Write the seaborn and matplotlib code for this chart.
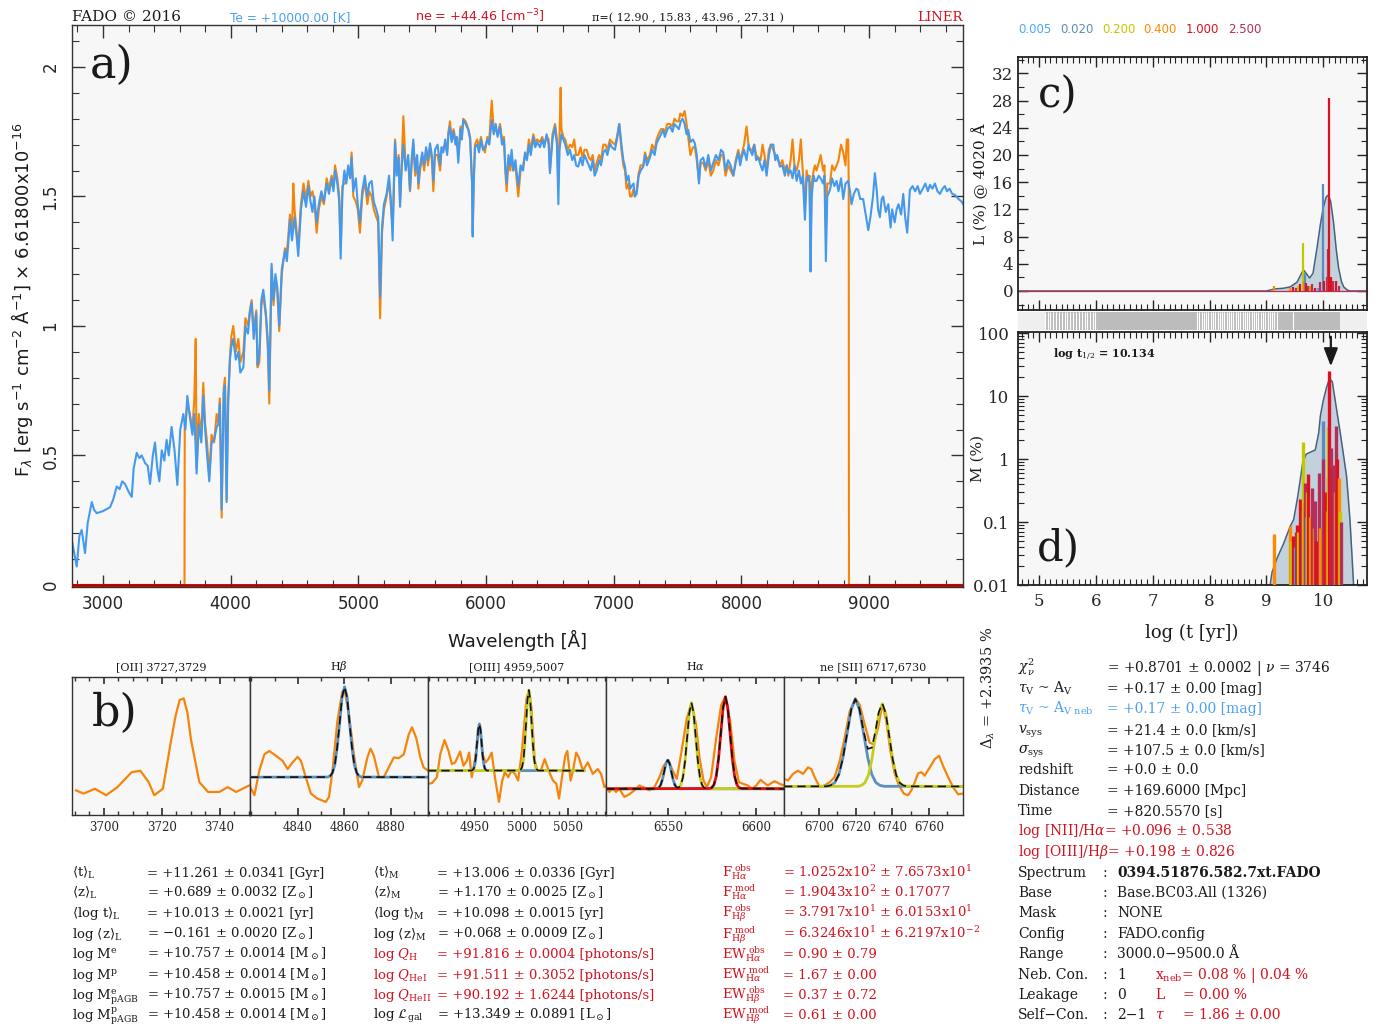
import numpy as np
import pandas as pd
import matplotlib
matplotlib.use("Agg")
import matplotlib.pyplot as plt
from matplotlib.ticker import MultipleLocator, LogLocator, NullFormatter
import seaborn as sns

# ------------------------------------------------------------------ data
# panel a: model (blue) spectrum
model_wave = [
    2755, 2775, 2794, 2815, 2833, 2845, 2859, 2880, 2912, 2930,
    2951, 3000, 3055, 3080, 3107, 3130, 3150, 3172, 3200, 3225,
    3240, 3264, 3285, 3303, 3330, 3350, 3368, 3390, 3407, 3425,
    3441, 3460, 3480, 3498, 3515, 3537, 3560, 3582, 3605, 3629,
    3645, 3660, 3680, 3700, 3715, 3733, 3750, 3770, 3785, 3800,
    3815, 3832, 3850, 3870, 3890, 3905, 3915, 3929, 3945, 3955,
    3968, 3980, 3994, 4005, 4020, 4040, 4060, 4075, 4099, 4115,
    4135, 4150, 4164, 4180, 4200, 4210, 4224, 4240, 4255, 4275,
    4290, 4302, 4320, 4335, 4350, 4365, 4380, 4400, 4425, 4440,
    4464, 4480, 4500, 4515, 4529, 4550, 4570, 4590, 4608, 4625,
    4640, 4655, 4673, 4690, 4710, 4730, 4751, 4770, 4790, 4805,
    4817, 4835, 4850, 4861, 4875, 4890, 4905, 4920, 4935, 4947,
    4960, 4980, 4995, 5012, 5030, 5050, 5070, 5085, 5104, 5120,
    5140, 5155, 5170, 5185, 5200, 5221, 5240, 5255, 5268, 5287,
    5300, 5315, 5326, 5340, 5352, 5370, 5390, 5404, 5418, 5430,
    5445, 5460, 5470, 5482, 5500, 5515, 5530, 5545, 5561, 5575,
    5587, 5600, 5620, 5640, 5650, 5665, 5680, 5695, 5705, 5717,
    5730, 5745, 5760, 5770, 5782, 5800, 5810, 5821, 5840, 5861,
    5875, 5890, 5895, 5903, 5913, 5930, 5945, 5960, 5975, 5991,
    6010, 6025, 6044, 6060, 6075, 6090, 6109, 6125, 6140, 6150,
    6161, 6175, 6190, 6200, 6213, 6230, 6242, 6252, 6270, 6290,
    6305, 6320, 6335, 6350, 6370, 6385, 6400, 6422, 6440, 6455,
    6474, 6490, 6500, 6520, 6540, 6555, 6566, 6575, 6590, 6605,
    6620, 6640, 6657, 6675, 6690, 6705, 6722, 6740, 6755, 6770,
    6788, 6805, 6820, 6835, 6850, 6866, 6885, 6900, 6918, 6935,
    6950, 6970, 6985, 7009, 7025, 7043, 7060, 7075, 7088, 7100,
    7115, 7128, 7140, 7155, 7165, 7179, 7195, 7210, 7231, 7245,
    7260, 7283, 7300, 7320, 7335, 7350, 7370, 7387, 7400, 7420,
    7440, 7460, 7475, 7492, 7510, 7525, 7539, 7555, 7570, 7583,
    7600, 7620, 7635, 7650, 7667, 7680, 7700, 7720, 7740, 7760,
    7779, 7800, 7820, 7840, 7857, 7875, 7895, 7915, 7936, 7955,
    7975, 7990, 8001, 8020, 8040, 8055, 8067, 8085, 8100, 8115,
    8132, 8150, 8165, 8180, 8197, 8215, 8230, 8249, 8265, 8280,
    8301, 8320, 8340, 8355, 8367, 8385, 8400, 8415, 8432, 8450,
    8465, 8480, 8497, 8510, 8523, 8533, 8541, 8550, 8565, 8575,
    8588, 8605, 8620, 8640, 8650, 8661, 8672, 8693, 8710, 8728,
    8745, 8760, 8780, 8797, 8815, 8836, 8850, 8862, 8880, 8900,
    8914, 8930, 8953, 8970, 8993, 9010, 9030, 9045, 9060, 9070,
    9084, 9098, 9110, 9130, 9150, 9168, 9180, 9200, 9215, 9230,
    9250, 9267, 9282, 9298, 9310, 9319, 9340, 9360, 9380, 9398,
    9420, 9440, 9460, 9476, 9495, 9515, 9535, 9554, 9575, 9593,
    9610, 9630, 9650, 9672, 9700, 9724, 9735]
model_flux = [
    0.174, 0.120, 0.071, 0.190, 0.212, 0.170, 0.123, 0.240, 0.320, 0.290,
    0.277, 0.285, 0.300, 0.330, 0.380, 0.370, 0.400, 0.390, 0.360, 0.340,
    0.450, 0.510, 0.490, 0.500, 0.470, 0.460, 0.390, 0.500, 0.550, 0.450,
    0.400, 0.520, 0.480, 0.560, 0.500, 0.610, 0.520, 0.386, 0.600, 0.660,
    0.600, 0.730, 0.650, 0.580, 0.660, 0.430, 0.620, 0.550, 0.730, 0.600,
    0.500, 0.400, 0.550, 0.560, 0.610, 0.620, 0.700, 0.290, 0.740, 0.770,
    0.320, 0.700, 0.870, 0.920, 0.950, 0.870, 0.900, 0.820, 0.840, 1.000,
    0.970, 1.050, 1.090, 0.950, 1.050, 0.850, 0.890, 1.100, 1.140, 1.050,
    0.950, 0.750, 1.240, 1.100, 1.200, 1.150, 1.000, 1.220, 1.290, 1.250,
    1.410, 1.330, 1.420, 1.350, 1.270, 1.450, 1.520, 1.460, 1.540, 1.480,
    1.440, 1.500, 1.400, 1.470, 1.520, 1.480, 1.550, 1.510, 1.570, 1.520,
    1.600, 1.550, 1.480, 1.260, 1.520, 1.600, 1.550, 1.620, 1.570, 1.650,
    1.520, 1.570, 1.470, 1.400, 1.520, 1.580, 1.500, 1.550, 1.560, 1.480,
    1.450, 1.420, 1.110, 1.380, 1.470, 1.510, 1.580, 1.480, 1.330, 1.710,
    1.580, 1.650, 1.460, 1.620, 1.700, 1.600, 1.660, 1.525, 1.650, 1.720,
    1.600, 1.660, 1.550, 1.615, 1.670, 1.620, 1.690, 1.640, 1.705, 1.660,
    1.560, 1.680, 1.700, 1.620, 1.690, 1.670, 1.720, 1.660, 1.740, 1.770,
    1.710, 1.750, 1.700, 1.730, 1.630, 1.760, 1.720, 1.795, 1.780, 1.757,
    1.720, 1.550, 1.345, 1.550, 1.690, 1.700, 1.670, 1.720, 1.680, 1.690,
    1.720, 1.700, 1.795, 1.740, 1.780, 1.730, 1.770, 1.700, 1.720, 1.620,
    1.550, 1.660, 1.620, 1.680, 1.600, 1.640, 1.580, 1.540, 1.620, 1.600,
    1.670, 1.640, 1.700, 1.660, 1.730, 1.690, 1.710, 1.690, 1.720, 1.690,
    1.740, 1.700, 1.590, 1.720, 1.770, 1.700, 1.470, 1.680, 1.740, 1.720,
    1.700, 1.660, 1.680, 1.640, 1.660, 1.620, 1.615, 1.650, 1.620, 1.660,
    1.640, 1.620, 1.600, 1.640, 1.580, 1.600, 1.640, 1.620, 1.670, 1.680,
    1.660, 1.705, 1.690, 1.680, 1.720, 1.780, 1.700, 1.640, 1.615, 1.560,
    1.580, 1.530, 1.540, 1.550, 1.500, 1.510, 1.580, 1.600, 1.615, 1.660,
    1.620, 1.650, 1.680, 1.660, 1.705, 1.720, 1.740, 1.757, 1.730, 1.760,
    1.770, 1.750, 1.780, 1.770, 1.760, 1.790, 1.800, 1.780, 1.740, 1.757,
    1.710, 1.720, 1.705, 1.660, 1.550, 1.640, 1.650, 1.610, 1.660, 1.600,
    1.630, 1.660, 1.640, 1.680, 1.670, 1.600, 1.640, 1.620, 1.580, 1.630,
    1.670, 1.620, 1.650, 1.680, 1.640, 1.700, 1.680, 1.660, 1.700, 1.640,
    1.650, 1.620, 1.600, 1.640, 1.580, 1.660, 1.700, 1.700, 1.640, 1.660,
    1.615, 1.620, 1.580, 1.620, 1.590, 1.600, 1.570, 1.620, 1.560, 1.600,
    1.550, 1.580, 1.410, 1.570, 1.580, 1.550, 1.210, 1.500, 1.580, 1.560,
    1.560, 1.580, 1.570, 1.550, 1.580, 1.250, 1.500, 1.525, 1.570, 1.540,
    1.560, 1.520, 1.570, 1.490, 1.550, 1.560, 1.520, 1.470, 1.510, 1.530,
    1.525, 1.490, 1.490, 1.440, 1.370, 1.420, 1.500, 1.590, 1.520, 1.450,
    1.420, 1.490, 1.500, 1.440, 1.470, 1.380, 1.450, 1.400, 1.450, 1.470,
    1.430, 1.510, 1.420, 1.360, 1.450, 1.525, 1.540, 1.520, 1.540, 1.510,
    1.530, 1.550, 1.520, 1.545, 1.530, 1.550, 1.520, 1.510, 1.530, 1.540,
    1.520, 1.530, 1.510, 1.506, 1.490, 1.480, 1.470]

# panel a: observed (orange) spectrum
obs_wave = [
    2757, 3636, 3638, 3640, 3645, 3660, 3680, 3700, 3715, 3726,
    3733, 3750, 3770, 3785, 3800, 3815, 3832, 3850, 3870, 3890,
    3905, 3915, 3929, 3945, 3955, 3968, 3980, 3994, 4005, 4020,
    4040, 4060, 4075, 4099, 4115, 4135, 4150, 4164, 4180, 4200,
    4210, 4224, 4240, 4255, 4275, 4290, 4302, 4320, 4335, 4350,
    4365, 4380, 4400, 4425, 4440, 4464, 4480, 4490, 4500, 4515,
    4529, 4550, 4570, 4590, 4608, 4625, 4640, 4655, 4673, 4690,
    4710, 4730, 4751, 4770, 4790, 4805, 4817, 4835, 4850, 4861,
    4875, 4890, 4905, 4920, 4935, 4947, 4960, 4980, 4995, 5012,
    5030, 5050, 5070, 5085, 5104, 5120, 5140, 5155, 5170, 5185,
    5200, 5221, 5240, 5255, 5268, 5287, 5300, 5315, 5326, 5340,
    5352, 5370, 5390, 5404, 5418, 5430, 5445, 5460, 5470, 5482,
    5500, 5515, 5530, 5545, 5561, 5575, 5587, 5600, 5620, 5640,
    5650, 5665, 5680, 5695, 5705, 5717, 5730, 5745, 5760, 5770,
    5782, 5800, 5810, 5821, 5840, 5861, 5875, 5890, 5895, 5903,
    5913, 5930, 5945, 5960, 5975, 5991, 6010, 6025, 6044, 6060,
    6075, 6090, 6109, 6125, 6140, 6150, 6161, 6175, 6190, 6200,
    6213, 6230, 6242, 6252, 6270, 6290, 6305, 6320, 6335, 6350,
    6370, 6385, 6400, 6422, 6440, 6455, 6474, 6490, 6500, 6520,
    6540, 6555, 6566, 6584, 6590, 6605, 6620, 6640, 6657, 6675,
    6690, 6705, 6722, 6740, 6755, 6770, 6788, 6805, 6820, 6835,
    6850, 6866, 6885, 6900, 6918, 6935, 6950, 6970, 6985, 7009,
    7025, 7043, 7060, 7075, 7088, 7100, 7115, 7128, 7140, 7155,
    7165, 7179, 7195, 7210, 7231, 7245, 7260, 7283, 7300, 7320,
    7335, 7350, 7370, 7387, 7400, 7420, 7440, 7460, 7475, 7492,
    7510, 7520, 7539, 7555, 7570, 7583, 7600, 7620, 7635, 7650,
    7667, 7680, 7700, 7720, 7740, 7760, 7779, 7800, 7820, 7840,
    7857, 7875, 7895, 7915, 7936, 7955, 7975, 7990, 8001, 8020,
    8040, 8055, 8067, 8085, 8100, 8115, 8132, 8150, 8165, 8180,
    8197, 8215, 8230, 8249, 8265, 8280, 8301, 8320, 8340, 8355,
    8367, 8385, 8400, 8415, 8432, 8450, 8465, 8480, 8497, 8510,
    8523, 8533, 8541, 8550, 8565, 8575, 8588, 8605, 8620, 8640,
    8650, 8661, 8672, 8693, 8710, 8728, 8745, 8760, 8780, 8797,
    8815, 8825, 8836, 8840, 8842, 9735]
obs_flux = [
    0.000, 0.000, 0.000, 0.620, 0.620, 0.700, 0.660, 0.600, 0.720, 0.950,
    0.450, 0.660, 0.580, 0.780, 0.620, 0.550, 0.420, 0.580, 0.550, 0.660,
    0.620, 0.720, 0.260, 0.760, 0.800, 0.330, 0.720, 0.880, 0.960, 1.000,
    0.900, 0.950, 0.860, 0.900, 1.030, 1.000, 1.060, 1.100, 0.980, 1.060,
    0.840, 0.860, 1.080, 1.120, 1.040, 0.920, 0.700, 1.220, 1.080, 1.180,
    1.130, 0.980, 1.200, 1.300, 1.280, 1.430, 1.360, 1.550, 1.450, 1.370,
    1.300, 1.470, 1.550, 1.490, 1.560, 1.500, 1.520, 1.480, 1.360, 1.450,
    1.500, 1.470, 1.570, 1.530, 1.580, 1.540, 1.620, 1.570, 1.500, 1.300,
    1.540, 1.550, 1.560, 1.600, 1.580, 1.670, 1.500, 1.480, 1.450, 1.360,
    1.500, 1.560, 1.470, 1.520, 1.500, 1.450, 1.420, 1.400, 1.030, 1.360,
    1.450, 1.500, 1.560, 1.460, 1.380, 1.720, 1.600, 1.660, 1.480, 1.640,
    1.810, 1.620, 1.640, 1.520, 1.630, 1.700, 1.580, 1.640, 1.530, 1.600,
    1.650, 1.600, 1.680, 1.620, 1.690, 1.640, 1.520, 1.660, 1.660, 1.600,
    1.670, 1.690, 1.700, 1.670, 1.750, 1.790, 1.720, 1.760, 1.720, 1.720,
    1.660, 1.770, 1.730, 1.800, 1.790, 1.760, 1.730, 1.560, 1.360, 1.560,
    1.700, 1.720, 1.690, 1.730, 1.690, 1.670, 1.730, 1.720, 1.870, 1.760,
    1.760, 1.740, 1.780, 1.720, 1.730, 1.600, 1.520, 1.640, 1.600, 1.660,
    1.600, 1.620, 1.550, 1.500, 1.600, 1.620, 1.660, 1.650, 1.720, 1.680,
    1.740, 1.710, 1.720, 1.710, 1.730, 1.700, 1.730, 1.720, 1.600, 1.740,
    1.780, 1.720, 1.550, 1.920, 1.760, 1.730, 1.720, 1.680, 1.700, 1.690,
    1.720, 1.660, 1.660, 1.690, 1.650, 1.680, 1.680, 1.650, 1.640, 1.660,
    1.600, 1.630, 1.660, 1.640, 1.700, 1.700, 1.680, 1.720, 1.710, 1.700,
    1.730, 1.780, 1.680, 1.620, 1.600, 1.530, 1.550, 1.500, 1.500, 1.530,
    1.500, 1.520, 1.590, 1.620, 1.620, 1.670, 1.640, 1.660, 1.700, 1.680,
    1.720, 1.740, 1.760, 1.760, 1.750, 1.780, 1.780, 1.770, 1.800, 1.790,
    1.790, 1.820, 1.810, 1.830, 1.780, 1.730, 1.660, 1.690, 1.690, 1.640,
    1.560, 1.630, 1.630, 1.600, 1.640, 1.580, 1.600, 1.640, 1.620, 1.660,
    1.660, 1.580, 1.620, 1.600, 1.580, 1.640, 1.680, 1.640, 1.660, 1.700,
    1.770, 1.700, 1.680, 1.680, 1.700, 1.660, 1.650, 1.640, 1.700, 1.660,
    1.600, 1.680, 1.700, 1.680, 1.660, 1.650, 1.620, 1.640, 1.600, 1.620,
    1.580, 1.640, 1.720, 1.620, 1.600, 1.640, 1.720, 1.600, 1.450, 1.600,
    1.560, 1.580, 1.300, 1.550, 1.600, 1.620, 1.600, 1.630, 1.660, 1.600,
    1.620, 1.380, 1.550, 1.550, 1.620, 1.600, 1.620, 1.640, 1.700, 1.670,
    1.620, 1.720, 1.720, 1.550, 0.000, 0.000]

a_xticks = [3000, 4000, 5000, 6000, 7000, 8000, 9000]
a_yticks = [0, 0.5, 1, 1.5, 2]
a_ytick_labels = ["0", "0.5", "1", "1.5", "2"]

# panel b: emission-line windows (normalised flux)
oii_wave = [3690.3, 3693.0, 3696.9, 3700.8, 3704.7, 3709.6, 3712.6, 3715.5, 3717.4, 3720.4,
            3723.3, 3724.8, 3726.2, 3727.6, 3728.9, 3730.1, 3733.0, 3736.0, 3739.9, 3742.8,
            3745.7, 3750.2]
oii_flux = [0.179, 0.155, 0.190, 0.143, 0.202, 0.310, 0.321, 0.238, 0.143, 0.190,
            0.548, 0.720, 0.833, 0.845, 0.740, 0.548, 0.238, 0.167, 0.167, 0.202,
            0.167, 0.214]

hb_obs_wave = [4819.4, 4821.3, 4823.4, 4825.6, 4827.7, 4830.6, 4833.4, 4835.6, 4837.7, 4839.9,
               4841.3, 4843.4, 4845.6, 4848.4, 4852.0, 4853.4, 4854.9, 4857.0, 4859.1, 4860.1,
               4862.0, 4864.1, 4866.3, 4867.7, 4869.9, 4871.3, 4872.7, 4874.9, 4877.0, 4879.1,
               4881.3, 4883.4, 4885.6, 4887.7, 4889.1, 4890.9, 4892.7, 4894.1, 4896.0]
hb_obs_flux = [0.207, 0.143, 0.321, 0.440, 0.464, 0.429, 0.393, 0.333, 0.381, 0.421,
               0.393, 0.274, 0.155, 0.119, 0.095, 0.131, 0.321, 0.679, 0.893, 0.905,
               0.726, 0.440, 0.202, 0.250, 0.417, 0.481, 0.429, 0.274, 0.274, 0.345,
               0.417, 0.412, 0.440, 0.583, 0.636, 0.560, 0.417, 0.345, 0.321]
hb_fit_wave = [4819.4, 4852.7, 4853.8, 4854.8, 4855.9, 4856.9, 4858.0, 4859.0, 4860.1, 4861.2,
               4862.2, 4863.3, 4864.3, 4865.4, 4866.4, 4867.5, 4896.0]
hb_fit_flux = [0.274, 0.275, 0.281, 0.303, 0.363, 0.487, 0.671, 0.852, 0.929, 0.852,
               0.671, 0.487, 0.363, 0.303, 0.281, 0.275, 0.274]

oiii_obs_wave = [4899.3, 4903.6, 4908.9, 4912.5, 4917.1, 4921.4, 4925.0, 4928.6, 4933.9, 4937.5,
                 4941.1, 4943.6, 4946.4, 4950.0, 4953.6, 4955.4, 4957.9, 4961.4, 4964.3, 4967.9,
                 4971.4, 4975.7, 4979.3, 4982.1, 4985.7, 4989.3, 4992.9, 4996.4, 5000.7, 5005.4,
                 5007.9, 5010.7, 5014.3, 5017.1, 5020.7, 5025.0, 5029.3, 5033.9, 5037.5, 5040.4,
                 5043.6, 5047.1, 5049.3, 5052.9, 5055.4, 5058.9, 5061.8, 5066.1, 5071.4, 5076.8,
                 5082.1, 5085.7, 5089.3, 5091.1]
oiii_obs_flux = [0.226, 0.231, 0.274, 0.440, 0.543, 0.464, 0.369, 0.381, 0.460, 0.357,
                 0.393, 0.452, 0.274, 0.405, 0.595, 0.643, 0.440, 0.381, 0.405, 0.452,
                 0.274, 0.095, 0.250, 0.310, 0.274, 0.321, 0.298, 0.250, 0.476, 0.845,
                 0.898, 0.774, 0.393, 0.321, 0.321, 0.405, 0.321, 0.250, 0.226, 0.119,
                 0.274, 0.429, 0.464, 0.250, 0.321, 0.452, 0.417, 0.321, 0.381, 0.298,
                 0.333, 0.298, 0.202, 0.214]
oiii4959_wave = [4899.3, 4946.2, 4947.4, 4948.6, 4949.8, 4951.0, 4952.2, 4953.4, 4954.6, 4955.8,
                 4957.0, 4958.2, 4959.4, 4960.6, 4961.8, 4963.0, 5068.0]
oiii4959_flux = [0.321, 0.322, 0.325, 0.336, 0.367, 0.431, 0.527, 0.620, 0.660, 0.620,
                 0.527, 0.431, 0.367, 0.336, 0.325, 0.322, 0.321]
oiii5007_wave = [4899.3, 4997.7, 4999.2, 5000.6, 5002.1, 5003.5, 5005.0, 5006.4, 5007.9, 5009.4,
                 5010.8, 5012.3, 5013.7, 5015.2, 5016.6, 5018.1, 5068.0]
oiii5007_flux = [0.321, 0.322, 0.328, 0.347, 0.400, 0.511, 0.675, 0.836, 0.905, 0.836,
                 0.675, 0.511, 0.400, 0.347, 0.328, 0.322, 0.321]
oiii_tot_wave = [4899.3, 4946.2, 4947.4, 4948.6, 4949.8, 4951.0, 4952.2, 4953.4, 4954.6, 4955.8,
                 4957.0, 4958.2, 4959.4, 4960.6, 4961.8, 4963.0, 4997.7, 4999.2, 5000.6, 5002.1,
                 5003.5, 5005.0, 5006.4, 5007.9, 5009.4, 5010.8, 5012.3, 5013.7, 5015.2, 5016.6,
                 5018.1, 5068.0]
oiii_tot_flux = [0.321, 0.322, 0.325, 0.336, 0.367, 0.431, 0.527, 0.620, 0.660, 0.620,
                 0.527, 0.431, 0.367, 0.336, 0.325, 0.322, 0.322, 0.328, 0.347, 0.400,
                 0.511, 0.675, 0.836, 0.905, 0.836, 0.675, 0.511, 0.400, 0.347, 0.328,
                 0.322, 0.321]

ha_obs_wave = [6515.1, 6517.0, 6518.9, 6520.8, 6522.6, 6525.5, 6528.3, 6531.1, 6534.0, 6536.8,
               6539.6, 6542.5, 6545.3, 6547.7, 6550.4, 6552.8, 6555.1, 6557.5, 6560.8, 6563.4,
               6566.0, 6567.9, 6570.2, 6572.1, 6574.5, 6577.4, 6580.2, 6582.6, 6585.3, 6587.7,
               6590.2, 6592.5, 6595.3, 6597.7, 6600.0, 6602.5, 6604.7, 6606.6, 6608.5, 6610.4,
               6613.2, 6615.7]
ha_obs_flux = [0.202, 0.167, 0.190, 0.167, 0.190, 0.131, 0.150, 0.179, 0.214, 0.198,
               0.179, 0.202, 0.274, 0.357, 0.398, 0.321, 0.262, 0.440, 0.702, 0.810,
               0.655, 0.417, 0.250, 0.202, 0.274, 0.560, 0.798, 0.857, 0.679, 0.393,
               0.238, 0.226, 0.214, 0.190, 0.214, 0.255, 0.231, 0.214, 0.231, 0.245,
               0.226, 0.214]
nii6548_wave = [6515.1, 6543.0, 6544.0, 6545.0, 6546.0, 6547.0, 6548.0, 6549.0, 6550.0, 6551.0,
                6552.0, 6553.0, 6554.0, 6555.0, 6556.0, 6557.0, 6615.7]
nii6548_flux = [0.190, 0.190, 0.192, 0.199, 0.218, 0.258, 0.316, 0.374, 0.398, 0.374,
                0.316, 0.258, 0.218, 0.199, 0.192, 0.190, 0.190]
ha6563_wave = [6515.1, 6555.0, 6556.2, 6557.4, 6558.6, 6559.8, 6561.0, 6562.2, 6563.4, 6564.6,
               6565.8, 6567.0, 6568.2, 6569.4, 6570.6, 6571.8, 6615.7]
ha6563_flux = [0.190, 0.191, 0.197, 0.217, 0.274, 0.393, 0.568, 0.741, 0.814, 0.741,
               0.568, 0.393, 0.274, 0.217, 0.197, 0.191, 0.190]
nii6584_wave = [6515.1, 6573.5, 6574.8, 6576.1, 6577.4, 6578.7, 6580.0, 6581.3, 6582.6, 6583.9,
                6585.2, 6586.5, 6587.8, 6589.1, 6590.4, 6591.7, 6615.7]
nii6584_flux = [0.190, 0.192, 0.197, 0.219, 0.280, 0.407, 0.595, 0.779, 0.857, 0.779,
                0.595, 0.407, 0.280, 0.219, 0.197, 0.192, 0.190]
ha_tot_wave = [6515.1, 6543.0, 6544.0, 6545.0, 6546.0, 6547.0, 6548.0, 6549.0, 6550.0, 6551.0,
               6552.0, 6553.0, 6554.0, 6555.0, 6556.2, 6557.4, 6558.6, 6559.8, 6561.0, 6562.2,
               6563.4, 6564.6, 6565.8, 6567.0, 6568.2, 6569.4, 6570.6, 6571.8, 6573.5, 6574.8,
               6576.1, 6577.4, 6578.7, 6580.0, 6581.3, 6582.6, 6583.9, 6585.2, 6586.5, 6587.8,
               6589.1, 6590.4, 6591.7, 6615.7]
ha_tot_flux = [0.190, 0.190, 0.192, 0.199, 0.218, 0.258, 0.316, 0.374, 0.398, 0.374,
               0.316, 0.258, 0.218, 0.200, 0.199, 0.217, 0.274, 0.393, 0.568, 0.741,
               0.814, 0.741, 0.568, 0.393, 0.274, 0.217, 0.197, 0.192, 0.192, 0.197,
               0.219, 0.280, 0.407, 0.595, 0.779, 0.857, 0.779, 0.595, 0.407, 0.280,
               0.219, 0.197, 0.192, 0.190]

sii_obs_wave = [6680.9, 6683.1, 6685.8, 6688.5, 6691.3, 6694.0, 6695.8, 6697.6, 6700.4, 6703.1,
                6705.8, 6708.5, 6711.3, 6714.0, 6716.7, 6719.8, 6722.2, 6724.9, 6727.6, 6729.8,
                6732.2, 6734.5, 6736.7, 6738.9, 6741.3, 6743.6, 6746.2, 6748.5, 6750.4, 6752.2,
                6754.0, 6755.8, 6757.6, 6760.4, 6763.1, 6765.5, 6767.6, 6770.4, 6773.1, 6775.8,
                6778.5]
sii_obs_flux = [0.262, 0.250, 0.298, 0.321, 0.298, 0.345, 0.333, 0.274, 0.202, 0.214,
                0.238, 0.274, 0.393, 0.560, 0.750, 0.845, 0.798, 0.655, 0.524, 0.512,
                0.631, 0.805, 0.679, 0.464, 0.298, 0.214, 0.155, 0.143, 0.179, 0.238,
                0.302, 0.310, 0.286, 0.345, 0.405, 0.429, 0.357, 0.274, 0.202, 0.150,
                0.155]
sii6717_wave = [6680.9, 6704.0, 6706.3, 6708.6, 6710.8, 6713.0, 6715.3, 6717.6, 6719.8, 6722.0,
                6724.3, 6726.6, 6728.8, 6731.0, 6733.3, 6735.6, 6778.5]
sii6717_flux = [0.207, 0.208, 0.214, 0.235, 0.293, 0.413, 0.591, 0.766, 0.840, 0.766,
                0.591, 0.413, 0.293, 0.235, 0.214, 0.208, 0.207]
sii6731_wave = [6680.9, 6721.2, 6723.1, 6725.0, 6726.9, 6728.8, 6730.7, 6732.6, 6734.5, 6736.4,
                6738.3, 6740.2, 6742.1, 6744.0, 6745.9, 6747.8, 6778.5]
sii6731_flux = [0.207, 0.208, 0.214, 0.233, 0.288, 0.401, 0.570, 0.735, 0.805, 0.735,
                0.570, 0.401, 0.288, 0.233, 0.214, 0.208, 0.207]
sii_tot_wave = [6680.9, 6704.0, 6706.3, 6708.6, 6710.8, 6713.0, 6715.3, 6717.6, 6719.8, 6722.0,
                6724.3, 6726.6, 6728.8, 6730.7, 6732.6, 6734.5, 6736.4, 6738.3, 6740.2, 6742.1,
                6744.0, 6745.9, 6747.8, 6778.5]
sii_tot_flux = [0.207, 0.208, 0.214, 0.235, 0.293, 0.410, 0.591, 0.768, 0.840, 0.771,
                0.607, 0.479, 0.488, 0.604, 0.746, 0.808, 0.736, 0.570, 0.401, 0.288,
                0.233, 0.214, 0.208, 0.207]

b_titles = ["[OII] 3727,3729", r"H$\beta$", "[OIII] 4959,5007", r"H$\alpha$", "ne [SII] 6717,6730"]
b_xlims = [(3689.0, 3750.5), (4819.4, 4896.0), (4899.3, 5091.0), (6515.1, 6615.7), (6680.9, 6778.5)]
b_ticks = [[3700, 3720, 3740], [4840, 4860, 4880], [4950, 5000, 5050], [6550, 6600],
           [6700, 6720, 6740, 6760]]

# panels c & d: star-formation history
Z_labels = ["0.005", "0.020", "0.200", "0.400", "1.000", "2.500"]
c_curve_age = [4.63, 9.00, 9.15, 9.30, 9.42, 9.54, 9.60, 9.65, 9.70, 9.76, 9.82, 9.89, 9.95,
               10.00, 10.05, 10.09, 10.13, 10.18, 10.23, 10.27, 10.32, 10.36, 10.42, 10.47, 10.77]
c_curve_L = [0.0, 0.0, 0.3, 0.4, 0.6, 1.3, 2.3, 3.1, 2.6, 1.9, 2.6, 6.3, 9.8,
             12.2, 13.8, 14.1, 13.2, 10.2, 6.0, 3.4, 1.4, 0.6, 0.15, 0.0, 0.0]
c_bar_age = [9.14, 9.42, 9.47, 9.52, 9.56, 9.60, 9.64, 9.66, 9.68, 9.70, 9.73, 9.76, 9.80,
             9.85, 9.90, 9.95, 9.99, 10.02, 10.06, 10.08, 10.09, 10.10, 10.11, 10.14, 10.18,
             10.22, 10.27]
c_bar_L = [0.7, 0.5, 0.6, 0.4, 0.8, 1.0, 7.0, 1.5, 2.6, 1.2, 0.8, 0.7, 1.0,
           0.5, 0.4, 1.3, 15.8, 1.5, 2.0, 1.7, 6.2, 4.5, 28.3, 2.0, 1.5,
           1.5, 0.7]
c_bar_Z = ["0.400", "0.400", "1.000", "2.500", "0.200", "1.000", "0.200", "0.400", "0.020",
           "1.000", "2.500", "0.400", "2.500", "1.000", "0.005", "2.500", "0.020", "1.000",
           "2.500", "0.400", "2.500", "0.200", "1.000", "1.000", "2.500", "1.000", "2.500"]

d_curve_age = [9.05, 9.10, 9.19, 9.30, 9.42, 9.48, 9.55, 9.60, 9.64, 9.70, 9.78, 9.86, 9.92,
               9.95, 10.00, 10.06, 10.11, 10.16, 10.23, 10.30, 10.35, 10.41, 10.47, 10.51, 10.54]
d_curve_M = [0.008, 0.016, 0.027, 0.045, 0.086, 0.11, 0.25, 0.5, 0.9, 1.2, 1.3, 1.4, 2.6,
             4.9, 8.5, 14.0, 19.0, 17.0, 6.6, 2.6, 1.28, 0.54, 0.11, 0.025, 0.008]
d_bar_age = [9.14, 9.42, 9.44, 9.47, 9.50, 9.52, 9.54, 9.56, 9.595, 9.62, 9.64, 9.66, 9.68,
             9.70, 9.72, 9.74, 9.77, 9.80, 9.83, 9.86, 9.88, 9.92, 9.95, 9.99, 10.00, 10.035,
             10.06, 10.08, 10.09, 10.11, 10.13, 10.15, 10.18, 10.20, 10.23, 10.25, 10.27, 10.29,
             10.31]
d_bar_M = [0.065, 0.086, 0.05, 0.06, 0.04, 0.07, 0.09, 0.07, 0.23, 0.15, 1.85, 0.20, 0.42,
           0.12, 0.30, 0.59, 0.12, 0.35, 0.08, 0.22, 0.05, 0.60, 0.08, 4.0, 1.0, 0.30,
           0.15, 0.5, 3.2, 25.0, 1.5, 0.7, 0.8, 0.3, 3.4, 1.0, 0.5, 0.15,
           0.10]
d_bar_Z = ["0.400", "0.400", "0.200", "1.000", "0.005", "2.500", "1.000", "0.200", "1.000",
           "2.500", "0.200", "0.400", "2.500", "0.020", "0.200", "1.000", "0.400", "2.500",
           "0.400", "2.500", "1.000", "2.500", "0.400", "0.020", "2.500", "1.000", "0.400",
           "2.500", "0.200", "1.000", "2.500", "1.000", "2.500", "0.400", "2.500", "1.000",
           "0.400", "0.200", "2.500"]
t_half = 10.134
base_age_min, base_age_max = 5.10, 10.30
strip_gap_age = [5.10, 5.15, 5.20, 5.25, 5.30, 5.35, 5.40, 5.45, 5.50, 5.55, 5.60, 5.65,
                 5.70, 5.75, 5.80, 5.85, 5.90, 5.95, 5.99,
                 7.78, 7.82, 7.86, 7.90, 7.94, 7.98, 8.02, 8.06, 8.10, 8.14, 8.18, 8.22,
                 8.26, 8.30, 8.34, 8.38, 8.42, 8.46, 8.50, 8.54, 8.58, 8.62, 8.66, 8.70,
                 8.74, 8.78, 8.82, 8.86, 8.90, 8.94, 8.98, 9.02, 9.06, 9.10, 9.14, 9.18, 9.46]
d_yticks = [0.01, 0.1, 1, 10, 100]
d_ytick_labels = ["0.01", "0.1", "1", "10", "100"]

# ------------------------------------------------------------------ style
sns.set_theme(style="ticks")
plt.rcParams["font.family"] = ["DejaVu Serif"]
plt.rcParams["mathtext.fontset"] = "dejavuserif"
plt.rcParams["axes.linewidth"] = 1.0

BG = "#f7f7f7"
BLUE = "#4599ec"
ORANGE = "#f5850a"
RED = "#d4111e"
LBLUE = "#4aa0f0"
FITBLUE = "#5d8fbe"
FITYEL = "#c6cc1c"
FITRED = "#dd1016"
Z_COLORS = {"0.005": "#4aa8ff", "0.020": "#5a8cbc", "0.200": "#c3c800",
            "0.400": "#ff8a00", "1.000": "#dc1020", "2.500": "#b52e58"}
SANS = "DejaVu Sans"

W, H = 1384, 1028
fig = plt.figure(figsize=(W / 100, H / 100), dpi=100)


def add_px(x0, y0, x1, y1):
    return fig.add_axes([x0 / W, 1 - y1 / H, (x1 - x0) / W, (y1 - y0) / H])


def T(x, y, s, size=9.5, color="k", ha="left", va="baseline", **kw):
    return fig.text(x / W, 1 - y / H, s, fontsize=size, color=color, ha=ha, va=va, **kw)


def line(ax, x, y, **kw):
    sns.lineplot(x=x, y=y, ax=ax, sort=False, estimator=None, **kw)


# ------------------------------------------------------------------ panel a
ax = add_px(72, 25, 963, 587)
ax.set_facecolor(BG)
line(ax, obs_wave, obs_flux, color=ORANGE, lw=1.5)
line(ax, model_wave, model_flux, color=BLUE, lw=1.5)
ax.axhline(0, color="#b00000", lw=2.0, zorder=4)
ax.set_xlim(2757, 9735)
ax.set_ylim(-0.008, 2.162)
ax.set_xticks(a_xticks)
ax.set_xticklabels([str(v) for v in a_xticks], fontfamily=SANS, fontsize=12)
ax.set_yticks(a_yticks)
ax.set_yticklabels(a_ytick_labels, fontfamily=SANS, fontsize=12, rotation=90, va="center")
ax.xaxis.set_minor_locator(MultipleLocator(200))
ax.yaxis.set_minor_locator(MultipleLocator(0.1))
ax.tick_params(which="both", direction="in", top=True, right=True, color="#333333")
ax.tick_params(which="major", length=9, width=1.0, pad=6)
ax.tick_params(axis="y", which="major", pad=9)
ax.tick_params(which="minor", length=5, width=0.8)
ax.set_xlabel("")
ax.set_ylabel("")
for s in ax.spines.values():
    s.set_color("#333333")
T(112, 65, "a)", size=32, ha="center", va="center")
T(517, 640, "Wavelength [Å]", size=13, ha="center", va="center", fontfamily=SANS)
T(22, 300, r"F$_\lambda$ [erg s$^{-1}$ cm$^{-2}$ Å$^{-1}$] × 6.61800x10$^{-16}$",
  size=13, ha="center", va="center", rotation=90, fontfamily=SANS, math_fontfamily="dejavusans")

# header
T(72, 21, "FADO © 2016", size=11)
T(230, 21, "Te = +10000.00 [K]", size=8.8, color=LBLUE, fontfamily=SANS)
T(415, 21, r"ne = +44.46 [cm$^{-3}$]", size=9.2, color=RED, fontfamily=SANS,
  math_fontfamily="dejavusans")
T(592, 21, r"π=( 12.90 , 15.83 , 43.96 , 27.31 )", size=8)
T(963, 21, "LINER", size=9.5, color=RED, ha="right")

# ------------------------------------------------------------------ panel b
edges = [72, 250, 428, 606, 784, 963]
b_obs = [(oii_wave, oii_flux), (hb_obs_wave, hb_obs_flux), (oiii_obs_wave, oiii_obs_flux),
         (ha_obs_wave, ha_obs_flux), (sii_obs_wave, sii_obs_flux)]
b_comp = [[],
          [(hb_fit_wave, hb_fit_flux, FITBLUE)],
          [(oiii4959_wave, oiii4959_flux, FITBLUE), (oiii5007_wave, oiii5007_flux, FITYEL)],
          [(nii6548_wave, nii6548_flux, FITBLUE), (ha6563_wave, ha6563_flux, FITYEL),
           (nii6584_wave, nii6584_flux, FITRED)],
          [(sii6717_wave, sii6717_flux, FITBLUE), (sii6731_wave, sii6731_flux, FITYEL)]]
b_tot = [None, (hb_fit_wave, hb_fit_flux), (oiii_tot_wave, oiii_tot_flux),
         (ha_tot_wave, ha_tot_flux), (sii_tot_wave, sii_tot_flux)]
b_minor = [5, 10, 10, 10, 10]
for i in range(5):
    axb = add_px(edges[i], 677, edges[i + 1], 815)
    axb.set_facecolor(BG)
    for cx, cy, col in b_comp[i]:
        line(axb, cx, cy, color=col, lw=2.0)
    if b_tot[i] is not None:
        line(axb, b_tot[i][0], b_tot[i][1], color="#111111", lw=1.2, linestyle=(0, (5, 3)))
    line(axb, b_obs[i][0], b_obs[i][1], color=ORANGE, lw=1.6, zorder=1)
    axb.set_xlim(*b_xlims[i])
    axb.set_ylim(0, 1)
    axb.set_yticks([])
    axb.set_xticks(b_ticks[i])
    axb.set_xticklabels([str(v) for v in b_ticks[i]], fontsize=8.5)
    axb.xaxis.set_minor_locator(MultipleLocator(b_minor[i]))
    axb.tick_params(which="both", direction="in", top=True, color="#333333")
    axb.tick_params(which="major", length=5, pad=4)
    axb.tick_params(which="minor", length=3)
    axb.set_xlabel("")
    axb.set_ylabel("")
    for s in axb.spines.values():
        s.set_color("#333333")
    T((edges[i] + edges[i + 1]) / 2, 670, b_titles[i], size=8, ha="center")
T(115, 713, "b)", size=32, ha="center", va="center")

# ------------------------------------------------------------------ panel c
XL = (4.63, 10.77)
axc = add_px(1018, 57, 1367, 310)
axc.set_facecolor(BG)
axc.fill_between(c_curve_age, 0, c_curve_L, color="#c3d1dd", lw=0, zorder=1)
line(axc, c_curve_age, c_curve_L, color="#46627e", lw=1.1, zorder=2)
axc.axhline(0, color="#b8304e", lw=0.9, zorder=2)
for a, v, z in zip(c_bar_age, c_bar_L, c_bar_Z):
    axc.vlines(a, 0, v, color=Z_COLORS[z], lw=1.6, zorder=3)
axc.set_xlim(*XL)
axc.set_ylim(-2.8, 34.4)
axc.set_yticks([0, 4, 8, 12, 16, 20, 24, 28, 32])
axc.set_yticklabels(["0", "4", "8", "12", "16", "20", "24", "28", "32"], fontsize=12)
axc.yaxis.set_minor_locator(MultipleLocator(2))
axc.xaxis.set_major_locator(MultipleLocator(1))
axc.xaxis.set_minor_locator(MultipleLocator(0.1))
axc.tick_params(which="both", direction="in", top=True, right=True, labelbottom=False,
                color="#222222")
axc.tick_params(which="major", length=7, width=1.0)
axc.tick_params(which="minor", length=4, width=0.8)
axc.set_xlabel("")
axc.set_ylabel("")
for s in axc.spines.values():
    s.set_color("#222222")
    s.set_linewidth(1.3)
T(1058, 95, "c)", size=30, ha="center", va="center")
T(980, 184, "L (%) @ 4020 Å", size=11, ha="center", va="center", rotation=90)
legend_x = [1018, 1060, 1102, 1143, 1186, 1228]
for xx, z in zip(legend_x, Z_labels):
    T(xx, 33, z, size=8.5, color=Z_COLORS[z], fontfamily=SANS)

# strip
axs = add_px(1018, 312, 1367, 330)
axs.set_facecolor("#efefef")
axs.axvspan(base_age_min, base_age_max, color="#bcbcbc", lw=0)
axs.vlines(strip_gap_age, 0, 1, color="white", lw=0.8)
axs.set_xlim(*XL)
axs.set_ylim(0, 1)
axs.set_xticks([])
axs.set_yticks([])
for s in axs.spines.values():
    s.set_visible(False)

# ------------------------------------------------------------------ panel d
axd = add_px(1018, 332, 1367, 585)
axd.set_facecolor(BG)
axd.set_yscale("log")
axd.fill_between(d_curve_age, 1e-4, d_curve_M, color="#c3d1dd", lw=0, zorder=1)
line(axd, d_curve_age, d_curve_M, color="#46627e", lw=1.1, zorder=2)
for a, v, z in zip(d_bar_age, d_bar_M, d_bar_Z):
    axd.vlines(a, 1e-4, v, color=Z_COLORS[z], lw=2.4, zorder=3)
axd.set_xlim(*XL)
axd.set_ylim(0.01, 105)
axd.set_yticks(d_yticks)
axd.set_yticklabels(d_ytick_labels, fontsize=12)
axd.yaxis.set_minor_locator(LogLocator(base=10, subs=np.arange(2, 10)))
axd.yaxis.set_minor_formatter(NullFormatter())
axd.set_xticks([5, 6, 7, 8, 9, 10])
axd.set_xticklabels(["5", "6", "7", "8", "9", "10"], fontsize=12)
axd.xaxis.set_minor_locator(MultipleLocator(0.1))
axd.tick_params(which="both", direction="in", top=True, right=True, color="#222222")
axd.tick_params(which="major", length=7, width=1.0, pad=6)
axd.tick_params(which="minor", length=4, width=0.8)
axd.set_xlabel("")
axd.set_ylabel("")
for s in axd.spines.values():
    s.set_color("#222222")
    s.set_linewidth(1.3)
axd.annotate("", xy=(t_half, 27), xytext=(t_half, 98),
             arrowprops=dict(arrowstyle="-|>,head_width=0.35,head_length=0.9",
                             color="k", lw=1.6), zorder=5)
T(1053, 357, r"log t$_{1/2}$ = " + f"{t_half:.3f}", size=8, fontweight="bold")
T(1058, 548, "d)", size=30, ha="center", va="center")
T(978, 458, "M (%)", size=11, ha="center", va="center", rotation=90)
T(1192, 633, "log (t [yr])", size=13, ha="center", va="center")
T(988, 688, r"$\Delta_\lambda$ = +2.3935 %", size=10.5, ha="center", va="center", rotation=90)

# ------------------------------------------------------------------ text blocks
rows = [877, 897, 917, 938, 958, 979, 999, 1019]
col1 = [(r"$\langle$t$\rangle_\mathrm{L}$", "= +11.261 ± 0.0341 [Gyr]"),
        (r"$\langle$z$\rangle_\mathrm{L}$", r"= +0.689 ± 0.0032 [Z$_\odot$]"),
        (r"$\langle$log t$\rangle_\mathrm{L}$", "= +10.013 ± 0.0021 [yr]"),
        (r"log $\langle$z$\rangle_\mathrm{L}$", r"= −0.161 ± 0.0020 [Z$_\odot$]"),
        (r"log M$^\mathrm{e}$", r"= +10.757 ± 0.0014 [M$_\odot$]"),
        (r"log M$^\mathrm{p}$", r"= +10.458 ± 0.0014 [M$_\odot$]"),
        (r"log M$^\mathrm{e}_\mathrm{pAGB}$", r"= +10.757 ± 0.0015 [M$_\odot$]"),
        (r"log M$^\mathrm{p}_\mathrm{pAGB}$", r"= +10.458 ± 0.0014 [M$_\odot$]")]
col2 = [(r"$\langle$t$\rangle_\mathrm{M}$", "= +13.006 ± 0.0336 [Gyr]", "k"),
        (r"$\langle$z$\rangle_\mathrm{M}$", r"= +1.170 ± 0.0025 [Z$_\odot$]", "k"),
        (r"$\langle$log t$\rangle_\mathrm{M}$", "= +10.098 ± 0.0015 [yr]", "k"),
        (r"log $\langle$z$\rangle_\mathrm{M}$", r"= +0.068 ± 0.0009 [Z$_\odot$]", "k"),
        (r"log $Q_\mathrm{H}$", "= +91.816 ± 0.0004 [photons/s]", RED),
        (r"log $Q_\mathrm{HeI}$", "= +91.511 ± 0.3052 [photons/s]", RED),
        (r"log $Q_\mathrm{HeII}$", "= +90.192 ± 1.6244 [photons/s]", RED),
        (r"log $\mathcal{L}_\mathrm{gal}$", r"= +13.349 ± 0.0891 [L$_\odot$]", "k")]
col3 = [(r"F$_{\mathrm{H}\alpha}^{\ \mathrm{obs}}$", r"= 1.0252x10$^{2}$ ± 7.6573x10$^{1}$"),
        (r"F$_{\mathrm{H}\alpha}^{\ \mathrm{mod}}$", r"= 1.9043x10$^{2}$ ± 0.17077"),
        (r"F$_{\mathrm{H}\beta}^{\ \mathrm{obs}}$", r"= 3.7917x10$^{1}$ ± 6.0153x10$^{1}$"),
        (r"F$_{\mathrm{H}\beta}^{\ \mathrm{mod}}$", r"= 6.3246x10$^{1}$ ± 6.2197x10$^{-2}$"),
        (r"EW$_{\mathrm{H}\alpha}^{\ \mathrm{obs}}$", "= 0.90 ± 0.79"),
        (r"EW$_{\mathrm{H}\alpha}^{\ \mathrm{mod}}$", "= 1.67 ± 0.00"),
        (r"EW$_{\mathrm{H}\beta}^{\ \mathrm{obs}}$", "= 0.37 ± 0.72"),
        (r"EW$_{\mathrm{H}\beta}^{\ \mathrm{mod}}$", "= 0.61 ± 0.00")]
for y, (lab, val) in zip(rows, col1):
    T(72, y, lab)
    T(147, y, val)
for y, (lab, val, c) in zip(rows, col2):
    T(373, y, lab, color=c)
    T(437, y, val, color=c)
for y, (lab, val) in zip(rows, col3):
    T(722, y, lab, color=RED)
    T(783, y, val, color=RED)

rrows = [672, 693, 713, 734, 754, 774, 795, 815, 835, 856]
rblock = [(r"$\chi^2_\nu$", r"= +0.8701 ± 0.0002 | $\nu$ = 3746", "k"),
          (r"$\tau_\mathrm{V}$ ~ A$_\mathrm{V}$", "= +0.17 ± 0.00 [mag]", "k"),
          (r"$\tau_\mathrm{V}$ ~ A$_\mathrm{V\ neb}$", "= +0.17 ± 0.00 [mag]", LBLUE),
          (r"$v_\mathrm{sys}$", "= +21.4 ± 0.0 [km/s]", "k"),
          (r"$\sigma_\mathrm{sys}$", "= +107.5 ± 0.0 [km/s]", "k"),
          ("redshift", "= +0.0 ± 0.0", "k"),
          ("Distance", "= +169.6000 [Mpc]", "k"),
          ("Time", "= +820.5570 [s]", "k")]
for y, (lab, val, c) in zip(rrows, rblock):
    T(1018, y, lab, color=c, size=10)
    T(1107, y, val, color=c, size=10)
T(1018, rrows[8], r"log [NII]/H$\alpha$= +0.096 ± 0.538", color=RED, size=10)
T(1018, rrows[9], r"log [OIII]/H$\beta$= +0.198 ± 0.826", color=RED, size=10)

srows = [877, 897, 917, 938, 958, 979, 999, 1019]
sblock = [("Spectrum", "0394.51876.582.7xt.FADO"),
          ("Base", "Base.BC03.All (1326)"),
          ("Mask", "NONE"),
          ("Config", "FADO.config"),
          ("Range", "3000.0−9500.0 Å"),
          ("Neb. Con.", "1"),
          ("Leakage", "0"),
          ("Self−Con.", "2−1")]
for k, (y, (lab, val)) in enumerate(zip(srows, sblock)):
    T(1018, y, lab, size=10)
    T(1103, y, ":", size=10)
    T(1117, y, val, size=10, fontweight="bold" if k == 0 else "normal")
T(1155, srows[5], r"x$_\mathrm{neb}$= 0.08 % | 0.04 %", color=RED, size=10)
T(1155, srows[6], "L", color=RED, size=10)
T(1183, srows[6], "= 0.00 %", color=RED, size=10)
T(1155, srows[7], r"$\tau$", color=RED, size=10)
T(1183, srows[7], "= 1.86 ± 0.00", color=RED, size=10)

fig.savefig("out.png", dpi=100)
